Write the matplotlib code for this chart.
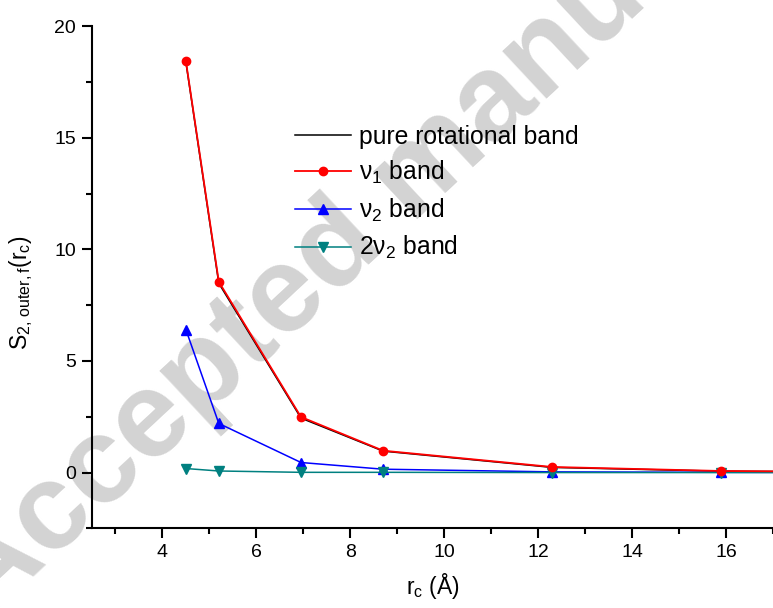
import matplotlib
matplotlib.use("Agg")
import matplotlib.pyplot as plt
from matplotlib.ticker import MultipleLocator

plt.rcParams['font.family'] = ['Liberation Sans', 'DejaVu Sans']
plt.rcParams['mathtext.fontset'] = 'custom'
plt.rcParams['mathtext.rm'] = 'Liberation Sans'
plt.rcParams['mathtext.it'] = 'Liberation Sans'
plt.rcParams['mathtext.default'] = 'regular'

# cut-off radius (Angstrom)
r_c = [4.5, 5.2, 6.95, 8.7, 12.3, 15.9, 19.5]

# S_2,outer,f for each band
pure_rot = [18.38, 8.48, 2.44, 0.96, 0.23, 0.06, 0.02]
nu1 = [18.42, 8.55, 2.49, 0.98, 0.25, 0.07, 0.02]
nu2 = [6.40, 2.20, 0.45, 0.15, 0.03, 0.01, 0.0]
two_nu2 = [0.18, 0.07, 0.01, 0.01, 0.0, 0.0, 0.0]

labels = ['pure rotational band', r'$\nu_1$ band', r'$\nu_2$ band', r'2$\nu_2$ band']

fig = plt.figure(figsize=(7.73, 6.08), dpi=100)
ax = fig.add_axes([0.119, 0.131, 0.881, 0.826])

# faint watermark behind the data
ax.text(-0.02, -0.025, 'Accepted manuscript', transform=fig.transFigure,
        rotation=43, rotation_mode='anchor', ha='left', va='baseline',
        fontsize=88, fontweight='bold', color='#d3d3d3', zorder=0, clip_on=False)

ax.plot(r_c, pure_rot, color='black', lw=1.1, label=labels[0], zorder=3)
ax.plot(r_c, nu1, color='#ff0000', lw=1.3, marker='o', ms=6, label=labels[1], zorder=4)
ax.plot(r_c, nu2, color='#0000ff', lw=1.1, marker='^', ms=7, label=labels[2], zorder=3)
ax.plot(r_c, two_nu2, color='#008080', lw=1.1, marker='v', ms=7, label=labels[3], zorder=3)

ax.set_xlim(2.5, 17)
ax.set_ylim(-2.5, 20)
ax.xaxis.set_major_locator(MultipleLocator(2))
ax.xaxis.set_minor_locator(MultipleLocator(1))
ax.yaxis.set_major_locator(MultipleLocator(5))
ax.yaxis.set_minor_locator(MultipleLocator(2.5))
ax.set_xticks([4, 6, 8, 10, 12, 14, 16])

for s in ['top', 'right']:
    ax.spines[s].set_visible(False)
for s in ['left', 'bottom']:
    ax.spines[s].set_linewidth(1.5)
ax.tick_params(which='major', direction='out', length=7.5, width=1.5, labelsize=14, pad=4)
ax.tick_params(which='minor', direction='out', length=4, width=1.5)

ax.set_xlabel('r$_c$ (Å)', fontsize=16.5)
ax.set_ylabel(r'S$_{2,\,outer,f}$(r$_c$)', fontsize=16.5)
ax.xaxis.set_label_coords(0.5, -0.085)
ax.yaxis.set_label_coords(-0.083, 0.47)

ax.legend(loc='upper left', bbox_to_anchor=(0.382, 0.795), bbox_transform=fig.transFigure,
          frameon=False, fontsize=17.8, handlelength=2.27, handletextpad=0.3,
          labelspacing=0.42, borderpad=0, borderaxespad=0)

fig.savefig('out.png', dpi=100)
